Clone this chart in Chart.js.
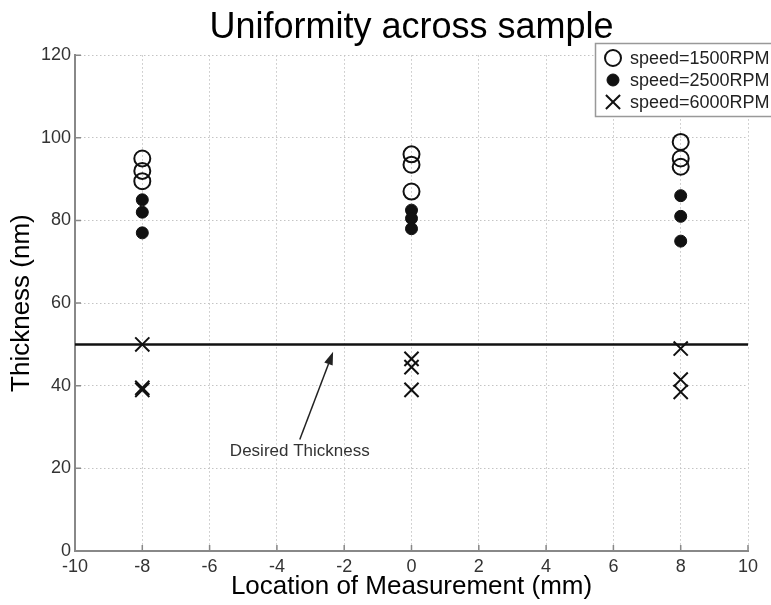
<!DOCTYPE html>
<html>
<head>
<meta charset="utf-8">
<script src="https://cdn.jsdelivr.net/npm/chart.js@4.4.1/dist/chart.umd.min.js"></script>
<style>
  html, body { margin: 0; padding: 0; background: #fff; }
  #wrap { width: 771px; height: 605px; }
</style>
</head>
<body>
<div id="wrap"><canvas id="uniformityCanvas" width="771" height="605"></canvas></div>
<script>
// location of each measurement (mm), three runs per location
const locations = [-8, -8, -8, 0, 0, 0, 8, 8, 8];
const thick1500 = [95, 92, 89.5, 96, 93.5, 87, 99, 95, 93];
const thick2500 = [85, 82, 77, 82.5, 80.5, 78, 86, 81, 75];
const thick6000 = [50, 39.5, 39, 46.5, 44.5, 39, 49, 41.5, 38.5];
const seriesLabels = ["speed=1500RPM", "speed=2500RPM", "speed=6000RPM"];
const desiredThickness = 50;
const xTicks = [-10, -8, -6, -4, -2, 0, 2, 4, 6, 8, 10];
const yTicks = [0, 20, 40, 60, 80, 100, 120];
// annotation: text anchor and arrow head, in data units
const noteText = "Desired Thickness";
const noteFrom = { x: -3.32, y: 27 };
const noteTo = { x: -2.33, y: 48.2 };

const toPoints = (ys) => ys.map((y, i) => ({ x: locations[i], y: y }));

const ink = "#111";
const fontFamily = "'Liberation Sans', Arial, sans-serif";

// small inward tick marks, matlab style
const innerTicks = {
  id: "innerTicks",
  afterDraw: (chart) => {
    const { ctx, chartArea, scales } = chart;
    ctx.save();
    ctx.strokeStyle = "#888";
    ctx.lineWidth = 1.5;
    ctx.beginPath();
    yTicks.forEach((v) => {
      const py = scales.y.getPixelForValue(v);
      ctx.moveTo(chartArea.left, py);
      ctx.lineTo(chartArea.left + 6, py);
    });
    xTicks.forEach((v) => {
      const px = scales.x.getPixelForValue(v);
      ctx.moveTo(px, chartArea.bottom);
      ctx.lineTo(px, chartArea.bottom - 6);
    });
    ctx.stroke();
    ctx.restore();
  },
};

// text + arrow pointing at the desired thickness line
const noteArrow = {
  id: "noteArrow",
  afterDatasetsDraw: (chart) => {
    const { ctx, scales } = chart;
    const x0 = scales.x.getPixelForValue(noteFrom.x);
    const y0 = scales.y.getPixelForValue(noteFrom.y);
    const x1 = scales.x.getPixelForValue(noteTo.x);
    const y1 = scales.y.getPixelForValue(noteTo.y);
    const ang = Math.atan2(y1 - y0, x1 - x0);
    const headLen = 13;
    const headW = 4.5;
    ctx.save();
    ctx.strokeStyle = "#222";
    ctx.fillStyle = "#222";
    ctx.lineWidth = 1.5;
    ctx.beginPath();
    ctx.moveTo(x0, y0);
    ctx.lineTo(x1 - Math.cos(ang) * headLen, y1 - Math.sin(ang) * headLen);
    ctx.stroke();
    const bx = x1 - Math.cos(ang) * headLen;
    const by = y1 - Math.sin(ang) * headLen;
    ctx.beginPath();
    ctx.moveTo(x1, y1);
    ctx.lineTo(bx + Math.sin(ang) * headW, by - Math.cos(ang) * headW);
    ctx.lineTo(bx - Math.sin(ang) * headW, by + Math.cos(ang) * headW);
    ctx.closePath();
    ctx.fill();
    ctx.font = "17px " + fontFamily;
    ctx.fillStyle = "#333";
    ctx.textAlign = "center";
    ctx.textBaseline = "middle";
    ctx.fillText(noteText, x0, y0 + 12);
    ctx.restore();
  },
};

// boxed legend in the top right corner
const boxLegend = {
  id: "boxLegend",
  afterDraw: (chart) => {
    const { ctx } = chart;
    const left = 595, top = 43, w = 185, h = 73;
    ctx.save();
    ctx.fillStyle = "#fff";
    ctx.fillRect(left, top, w, h);
    ctx.strokeStyle = "#999";
    ctx.lineWidth = 1.5;
    ctx.strokeRect(left + 0.5, top + 0.5, w, h);
    ctx.font = "18px " + fontFamily;
    ctx.textBaseline = "middle";
    ctx.textAlign = "left";
    for (let i = 0; i < 3; i++) {
      const ds = chart.data.datasets[i];
      const cy = top + 15 + i * 22;
      ctx.fillStyle = ds.pointBackgroundColor;
      ctx.strokeStyle = ds.pointBorderColor;
      ctx.lineWidth = ds.pointBorderWidth;
      Chart.helpers.drawPoint(ctx, {
        pointStyle: ds.pointStyle,
        radius: ds.pointRadius,
        borderWidth: ds.pointBorderWidth,
        rotation: 0,
      }, 613, cy);
      ctx.fillStyle = "#222";
      ctx.fillText(seriesLabels[i], 630, cy + 1);
    }
    ctx.restore();
  },
};

const uniformityChart = new Chart(document.getElementById("uniformityCanvas"), {
  type: "scatter",
  data: {
    datasets: [
      {
        label: seriesLabels[0],
        data: toPoints(thick1500),
        pointStyle: "circle",
        pointRadius: 8,
        pointBorderWidth: 2,
        pointBorderColor: ink,
        pointBackgroundColor: "rgba(255,255,255,0)",
      },
      {
        label: seriesLabels[1],
        data: toPoints(thick2500),
        pointStyle: "circle",
        pointRadius: 6,
        pointBorderWidth: 1,
        pointBorderColor: ink,
        pointBackgroundColor: ink,
      },
      {
        label: seriesLabels[2],
        data: toPoints(thick6000),
        pointStyle: "crossRot",
        pointRadius: 10,
        pointBorderWidth: 2,
        pointBorderColor: ink,
        pointBackgroundColor: ink,
      },
      {
        type: "line",
        label: "Desired Thickness",
        data: [
          { x: xTicks[0], y: desiredThickness },
          { x: xTicks[xTicks.length - 1], y: desiredThickness },
        ],
        borderColor: ink,
        borderWidth: 2.5,
        pointRadius: 0,
        showLine: true,
      },
    ],
  },
  options: {
    responsive: false,
    animation: false,
    layout: { padding: { top: 0, right: 23, bottom: 0, left: 0 } },
    plugins: {
      legend: { display: false },
      tooltip: { enabled: false },
      title: {
        display: true,
        text: "Uniformity across sample",
        fullSize: false,
        color: "#000",
        font: { family: fontFamily, size: 36, weight: "normal" },
        padding: { top: 6, bottom: 6 },
      },
    },
    scales: {
      x: {
        type: "linear",
        min: -10,
        max: 10,
        afterBuildTicks: (scale) => { scale.ticks = xTicks.map((v) => ({ value: v })); },
        afterFit: (scale) => { scale.height = 54; },
        grid: { color: "#c4c4c4", lineWidth: 1, drawTicks: false },
        border: { display: true, color: "#888", width: 2, dash: [1.5, 2.5] },
        ticks: {
          padding: 5,
          color: "#333",
          font: { family: fontFamily, size: 18 },
        },
        title: {
          display: true,
          text: "Location of Measurement (mm)",
          color: "#000",
          font: { family: fontFamily, size: 26 },
          padding: { top: 0, bottom: 3 },
        },
      },
      y: {
        type: "linear",
        min: 0,
        max: 120,
        afterBuildTicks: (scale) => { scale.ticks = yTicks.map((v) => ({ value: v })); },
        afterFit: (scale) => { scale.width = 75; },
        grid: { color: "#c4c4c4", lineWidth: 1, drawTicks: false },
        border: { display: true, color: "#888", width: 2, dash: [1.5, 2.5] },
        ticks: {
          padding: 4,
          color: "#333",
          font: { family: fontFamily, size: 18 },
        },
        title: {
          display: true,
          text: "Thickness (nm)",
          color: "#000",
          font: { family: fontFamily, size: 26 },
          padding: { top: 6, bottom: 0 },
        },
      },
    },
  },
  plugins: [innerTicks, noteArrow, boxLegend],
});
</script>
</body>
</html>
